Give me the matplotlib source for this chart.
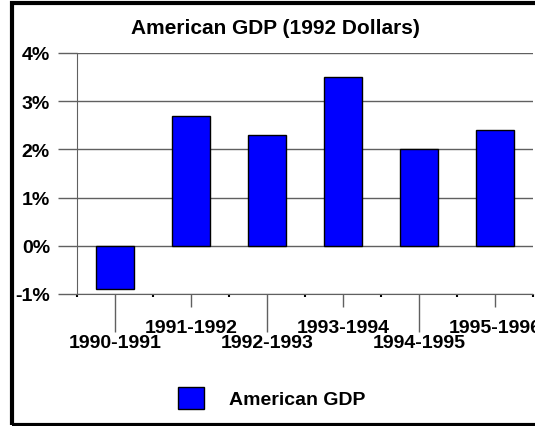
"""American GDP growth bar chart, redrawn with matplotlib."""
import matplotlib
matplotlib.use('Agg')
import matplotlib.pyplot as plt
from matplotlib.patches import Rectangle

# data
periods = ['1990-1991', '1991-1992', '1992-1993', '1993-1994', '1994-1995', '1995-1996']
gdp_growth = [-0.9, 2.7, 2.3, 3.5, 2.0, 2.4]
y_ticks = [-1, 0, 1, 2, 3, 4]
y_labels = ['-1%', '0%', '1%', '2%', '3%', '4%']

plt.rcParams['font.family'] = ['Liberation Sans', 'DejaVu Sans']
plt.rcParams['font.weight'] = 'bold'

fig = plt.figure(figsize=(5.35, 4.27), dpi=100)
ax = fig.add_axes([77 / 535, 1 - 295 / 427, 456 / 535, 241 / 427])

grid_col = '#606060'
x = list(range(len(periods)))
ax.bar(x, gdp_growth, width=0.51, color='#0000ff', edgecolor='black',
       linewidth=1, label='American GDP', zorder=3)

ax.set_xlim(-0.5, len(periods) - 0.5)
ax.set_ylim(-1, 4)
ax.set_yticks(y_ticks, y_labels, fontsize=14, fontweight='bold')
ax.yaxis.grid(True, color=grid_col, linewidth=1, zorder=0)
ax.tick_params(axis='y', length=14, width=1, color=grid_col, pad=5.5)

# staggered category labels: long ticks + low labels for even, short for odd
even = x[0::2]
odd = x[1::2]
ax.set_xticks(even, periods[0::2], fontsize=14, fontweight='bold')
ax.set_xticks(odd, periods[1::2], minor=True, fontsize=14, fontweight='bold')
ax.tick_params(axis='x', which='major', length=27, width=1, color=grid_col, pad=2)
ax.tick_params(axis='x', which='minor', length=9, width=1, color=grid_col, pad=9)

# tiny tick marks at category boundaries
sec = ax.secondary_xaxis('bottom')
sec.set_xticks([i - 0.5 for i in range(len(periods) + 1)], [''] * (len(periods) + 1))
sec.tick_params(length=2, width=1.5, color='black')
sec.spines['bottom'].set_visible(False)

for side in ['top', 'right']:
    ax.spines[side].set_visible(False)
ax.spines['left'].set_color(grid_col)
ax.spines['bottom'].set_color(grid_col)

fig.text(275 / 535, 1 - 29 / 427, 'American GDP (1992 Dollars)',
         ha='center', va='center', fontsize=15, fontweight='bold')

fig.legend(loc='center', bbox_to_anchor=(272 / 535, 1 - 399 / 427),
           frameon=False, prop={'size': 14, 'weight': 'bold'},
           handlelength=1.34, handleheight=1.34, handletextpad=1.29,
           borderpad=0)

# thick outer frame, running off the right edge like the original
fig.patches.append(Rectangle((12 / 535, 1 / 427), 1.0, 1 - 5 / 427,
                             transform=fig.transFigure, fill=False,
                             edgecolor='black', linewidth=3))

fig.savefig('out.png', dpi=100)
